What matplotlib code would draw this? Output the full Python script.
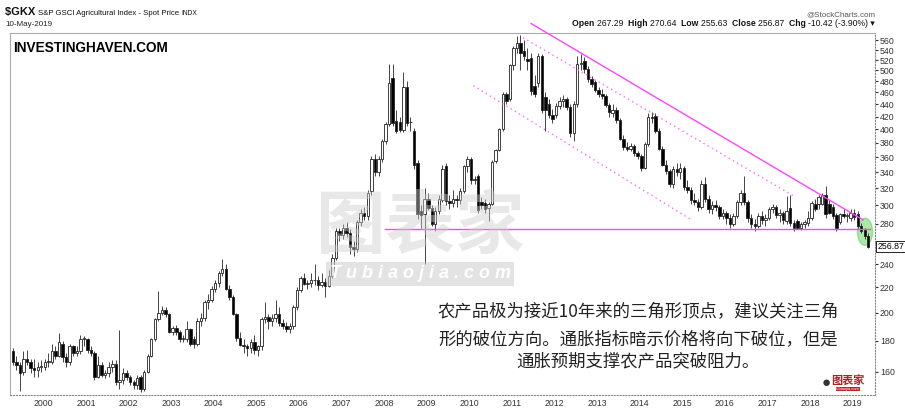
import pandas as pd
import matplotlib.pyplot as plt
import matplotlib.dates as mdates
from matplotlib.patches import Ellipse

# ---------------------------------
# DATA: monthly candles, Apr 1999 - May 2019
# ---------------------------------

opens = [
    173, 166, 164, 160, 168, 166, 162, 161, 163,                      # 1999 (Apr-Dec)
    163, 166, 166, 173, 170, 178, 169, 166, 176, 172, 173, 181,       # 2000
    181, 174, 172, 157, 164, 158, 159, 163, 165, 154, 155, 159,       # 2001
    157, 154, 152, 157, 150, 160, 170, 181, 195, 200, 202, 199,       # 2002
    186, 189, 186, 181, 181, 188, 181, 178, 194, 196, 208, 210,       # 2003
    219, 224, 232, 236, 219, 212, 199, 182, 177, 176, 175, 179,       # 2004
    174, 176, 195, 197, 194, 196, 199, 192, 190, 188, 190, 204,       # 2005
    218, 228, 223, 224, 226, 226, 222, 225, 221, 230, 246, 272,       # 2006
    268, 276, 270, 256, 254, 282, 292, 288, 317, 358, 340, 358,       # 2007
    383, 408, 485, 413, 411, 399, 469, 412, 398, 352, 294, 291,       # 2008
    307, 297, 280, 294, 306, 348, 305, 303, 308, 306, 317, 348,       # 2009
    358, 330, 336, 304, 303, 297, 302, 355, 370, 400, 458, 448,       # 2010
    510, 545, 554, 539, 523, 525, 472, 476, 529, 452, 441, 423,       # 2011
    423, 437, 446, 448, 436, 394, 440, 512, 519, 503, 484, 478,       # 2012
    465, 458, 454, 438, 426, 430, 414, 386, 374, 372, 375, 366,       # 2013
    362, 346, 378, 420, 421, 398, 372, 350, 342, 326, 344, 340,       # 2014
    346, 322, 318, 306, 304, 298, 326, 308, 296, 300, 298, 288,       # 2015
    292, 286, 280, 288, 304, 314, 304, 286, 280, 278, 288, 284,       # 2016
    286, 296, 298, 289, 292, 283, 297, 281, 283, 276, 280, 281,       # 2017
    286, 302, 302, 302, 312, 302, 298, 289, 282, 291, 288, 286,       # 2018
    292, 290, 278, 273, 267.29,                                       # 2019 (Jan-May)
]
highs = [
    175, 170, 166, 173, 174, 168, 168, 166, 167,
    168, 172, 178, 176, 185, 180, 172, 178, 177, 176, 184, 183,
    182, 176, 173, 170, 166, 161, 166, 167, 167, 187, 162, 161,
    158, 155, 158, 158, 161, 171, 182, 196, 217, 205, 204, 200,
    190, 191, 187, 184, 194, 189, 183, 196, 200, 210, 215, 221,
    226, 234, 245, 240, 222, 214, 200, 186, 181, 178, 181, 184,
    177, 197, 208, 199, 199, 210, 204, 195, 193, 192, 206, 220,
    230, 232, 226, 232, 240, 230, 232, 228, 235, 250, 275, 276,
    280, 282, 274, 262, 284, 296, 298, 318, 362, 365, 362, 386,
    412, 512, 512, 430, 420, 497, 480, 420, 402, 356, 300, 320,
    315, 300, 298, 312, 350, 352, 312, 318, 312, 320, 350, 362,
    360, 336, 338, 310, 308, 304, 356, 372, 402, 460, 460, 512,
    548, 570, 571, 560, 545, 535, 492, 535, 532, 460, 448, 432,
    442, 452, 456, 452, 440, 445, 528, 532, 526, 508, 490, 482,
    470, 466, 458, 442, 440, 436, 418, 392, 382, 380, 378, 368,
    365, 382, 425, 428, 425, 402, 376, 356, 345, 348, 352, 352,
    348, 330, 322, 314, 308, 330, 334, 312, 305, 306, 300, 296,
    294, 290, 292, 306, 318, 335, 306, 290, 285, 292, 294, 290,
    298, 302, 300, 296, 294, 311, 312, 284, 285, 282, 284, 294,
    305, 308, 312, 315, 323, 306, 302, 292, 292, 296, 292, 296,
    296, 294, 281, 276, 270.64,
]
lows = [
    164, 161, 149, 158, 164, 159, 157, 157, 160,
    161, 163, 165, 168, 169, 166, 163, 164, 170, 170, 171, 176,
    172, 170, 155, 156, 157, 156, 157, 160, 152, 150, 153, 155,
    152, 150, 150, 148, 149, 159, 169, 180, 194, 198, 197, 185,
    184, 184, 179, 179, 179, 176, 175, 176, 190, 194, 203, 208,
    216, 220, 230, 218, 210, 198, 180, 176, 172, 170, 172, 171,
    170, 174, 192, 188, 190, 193, 190, 188, 186, 185, 188, 202,
    216, 222, 219, 220, 222, 218, 220, 212, 220, 228, 244, 262,
    264, 266, 250, 248, 252, 278, 284, 284, 312, 335, 336, 354,
    378, 405, 405, 395, 396, 396, 405, 398, 345, 285, 275, 240,
    295, 278, 272, 290, 304, 300, 296, 298, 298, 302, 315, 340,
    326, 325, 292, 296, 292, 283, 300, 352, 368, 398, 440, 445,
    500, 535, 500, 520, 500, 455, 452, 470, 425, 398, 418, 410,
    418, 432, 436, 430, 388, 383, 436, 500, 495, 478, 470, 460,
    452, 448, 436, 420, 420, 410, 384, 370, 368, 368, 362, 358,
    342, 344, 375, 410, 395, 370, 348, 338, 322, 320, 335, 332,
    318, 315, 302, 300, 294, 296, 304, 292, 290, 294, 285, 285,
    280, 276, 278, 286, 300, 300, 282, 275, 272, 276, 280, 278,
    284, 292, 286, 282, 280, 280, 278, 272, 274, 273, 276, 278,
    284, 294, 296, 300, 286, 290, 285, 272, 280, 286, 282, 283,
    284, 276, 270, 264, 255.63,
]
closes = [
    166, 164, 159, 168, 166, 162, 161, 163, 163,
    166, 166, 173, 170, 179, 169, 166, 176, 172, 173, 181, 181,
    174, 172, 157, 164, 158, 159, 163, 165, 154, 155, 159, 157,
    154, 152, 156, 150, 160, 170, 181, 195, 200, 202, 199, 186,
    189, 186, 181, 182, 188, 178, 178, 194, 196, 208, 210, 219,
    224, 232, 236, 219, 212, 199, 182, 177, 176, 175, 179, 174,
    176, 195, 197, 194, 196, 199, 192, 190, 188, 190, 204, 218,
    228, 223, 224, 226, 226, 222, 225, 221, 230, 246, 272, 268,
    276, 270, 256, 254, 282, 292, 288, 315, 358, 340, 358, 383,
    408, 476, 410, 398, 399, 469, 410, 411, 350, 290, 289, 307,
    297, 280, 294, 307, 344, 305, 303, 308, 306, 317, 348, 358,
    330, 332, 295, 300, 296, 302, 353, 370, 400, 458, 446, 510,
    545, 555, 535, 529, 519, 462, 458, 529, 430, 430, 422, 416,
    437, 446, 448, 436, 394, 440, 512, 514, 503, 484, 475, 465,
    458, 454, 438, 428, 430, 414, 386, 374, 372, 375, 366, 362,
    346, 378, 420, 418, 398, 372, 350, 342, 326, 344, 340, 346,
    322, 318, 306, 304, 298, 326, 308, 296, 300, 298, 288, 292,
    286, 280, 288, 304, 314, 304, 286, 280, 278, 288, 284, 286,
    296, 298, 289, 292, 284, 294, 281, 276, 276, 280, 282, 286,
    303, 296, 310, 312, 290, 292, 288, 275, 291, 288, 289, 292,
    287, 278, 272, 267.29, 256.87,
]

months = pd.date_range("1999-04-01", "2019-05-01", freq="MS") + pd.Timedelta(days=14)
years = list(range(2000, 2020))
y_ticks = list(range(160, 561, 20))
hidden_tick = 260   # covered by the last-price box

# trend lines drawn on the chart (date, price)
upper_line = (["2011-06-15", "2019-04-01"], [597, 284])
upper_dotted = (["2011-04-07", "2017-08-25"], [566, 310])
lower_dotted = (["2010-02-05", "2015-03-10"], [472, 285])
support_line = (["2008-01-10", "2019-06-01"], [274, 274])

quote = [("Open", "267.29"), ("High", "270.64"), ("Low", "255.63"),
         ("Close", "256.87"), ("Chg", "-10.42 (-3.90%) \u25be")]

cn_lines = ["农产品极为接近10年来的三角形顶点，建议关注三角",
            "形的破位方向。通胀指标暗示价格将向下破位，但是",
            "通胀预期支撑农产品突破阻力。"]

# ---------------------------------
# FIGURE
# ---------------------------------
W, H = 905, 412
plt.rcParams["font.family"] = ["Liberation Sans", "DejaVu Sans"]
fig = plt.figure(figsize=(W / 100, H / 100), dpi=100)
ax = fig.add_axes([10 / W, 1 - 395 / H, 865 / W, 362 / H])
CJK = ["Noto Sans CJK SC", "DejaVu Sans"]


def px(x, y):
    return x / W, 1 - y / H


# candles
x = mdates.date2num(months)
for xi, o, h, l, c in zip(x, opens, highs, lows, closes):
    up = c >= o
    ax.vlines(xi, l, h, color="#444444", linewidth=0.7, zorder=2)
    bottom = min(o, c)
    height = max(abs(c - o), 0.6)
    ax.bar(xi, height, bottom=bottom, width=21,
           color="white" if up else "black",
           edgecolor="#222222", linewidth=0.6, zorder=3)

ax.set_yscale("log")
ax.set_ylim(146.5, 576)
ax.set_xlim(mdates.datestr2num("1999-03-22"), mdates.datestr2num("2019-07-12"))

ax.yaxis.tick_right()
ax.set_yticks(y_ticks)
ax.set_yticklabels(["" if v == hidden_tick else str(v) for v in y_ticks])
ax.minorticks_off()
ax.tick_params(axis="y", labelsize=6.3, length=2, pad=1.5, colors="#333333")

ax.set_xticks([mdates.datestr2num(f"{yr}-01-01") for yr in years])
ax.set_xticklabels([str(yr) for yr in years])
ax.tick_params(axis="x", labelsize=6.3, length=0, pad=3, colors="#333333")

for side in ["left", "top"]:
    ax.spines[side].set_color("#aaaaaa")
    ax.spines[side].set_linewidth(0.8)
for side in ["right", "bottom"]:
    ax.spines[side].set_color("#888888")
    ax.spines[side].set_linestyle(":")
    ax.spines[side].set_linewidth(0.8)

# trend lines
ax.plot(mdates.datestr2num(upper_line[0]), upper_line[1],
        color="#ff44ff", linewidth=1.0, zorder=4, clip_on=False)
ax.plot(mdates.datestr2num(upper_dotted[0]), upper_dotted[1],
        color="#ff66ff", linewidth=1.0, linestyle=(0, (1, 2.5)), zorder=4)
ax.plot(mdates.datestr2num(lower_dotted[0]), lower_dotted[1],
        color="#ff66ff", linewidth=1.0, linestyle=(0, (1, 2.5)), zorder=4)
ax.plot(mdates.datestr2num(support_line[0]), support_line[1],
        color="#ff44ff", linewidth=1.0, zorder=4)

# green highlight
fig.canvas.draw()
cx, cy = ax.transAxes.inverted().transform(
    ax.transData.transform((mdates.datestr2num("2019-04-17"), 271.6)))
ax.add_patch(Ellipse((cx, cy), 15 / 865, 27 / 362, transform=ax.transAxes,
                     facecolor="#8fe28a", edgecolor="#7bd676", alpha=0.75, zorder=1))

# last price box
ax.annotate("256.87", xy=(1.0, 256.87), xycoords=("axes fraction", "data"),
            xytext=(2, 0), textcoords="offset points", va="center", ha="left",
            fontsize=6.3, color="black", zorder=10, annotation_clip=False,
            bbox=dict(boxstyle="square,pad=0.15", fc="white", ec="black", lw=0.6))

# watermark
fig.text(*px(420, 228), "图表家", fontsize=50, fontweight="bold", color="#cccccc",
         alpha=0.45, ha="center", va="center", family=CJK, zorder=5)
fig.text(*px(420, 274), "T u b i a o j i a . c o m", fontsize=13, fontweight="bold",
         fontstyle="italic", color="white", ha="center", va="center", zorder=6,
         bbox=dict(boxstyle="square,pad=0.2", fc="#cccccc", ec="none", alpha=0.55))

renderer = fig.canvas.get_renderer()


def chain(x0, y0, pieces):
    # draw text pieces one after another, return end x
    xp = x0
    for txt, size, wt in pieces:
        t = fig.text(*px(xp, y0), txt, fontsize=size, fontweight=wt, va="baseline",
                     color="#111111")
        xp += t.get_window_extent(renderer).width
    return xp


# header
chain(5, 15, [("$GKX ", 8, "bold"),
              ("S&P GSCI Agricultural Index - Spot Price ", 5.6, "normal"),
              ("INDX", 4.8, "normal")])
fig.text(*px(5, 26), "10-May-2019", fontsize=5.8, va="baseline", color="#222222")
fig.text(*px(875, 16), "@StockCharts.com", fontsize=5.8, ha="right", va="baseline",
         color="#555555")

pieces = []
for label, val in quote:
    pieces.append((label + " ", 6.2, "bold"))
    pieces.append((val + "  ", 6.2, "normal"))
pieces[-1] = (quote[-1][1], 6.2, "normal")
probe = [fig.text(0, 0, t, fontsize=s, fontweight=w) for t, s, w in pieces]
total = sum(p.get_window_extent(renderer).width for p in probe)
for p in probe:
    p.remove()
chain(875 - total, 26, pieces)

fig.text(*px(13, 52), "INVESTINGHAVEN.COM", fontsize=9.8, fontweight="bold", va="baseline")

# chinese note
cn_y = [312.5, 339, 361]
for line, yy in zip(cn_lines, cn_y):
    fig.text(*px(638, yy), line, fontsize=12.5, ha="center", va="center", color="#222222",
             family=CJK)

# small logo bottom right
fig.text(*px(848, 380), "图表家", fontsize=8, fontweight="bold", color="#b0202a",
         ha="center", va="center", family=CJK)
fig.text(*px(848, 389), "tubiaojia.com", fontsize=3, color="white", ha="center", va="center",
         bbox=dict(boxstyle="square,pad=0.1", fc="#c0202a", ec="none"))
fig.text(*px(826, 383), "\u25cf", fontsize=11, color="#333333", ha="center", va="center")

fig.savefig("out.png", dpi=100)
